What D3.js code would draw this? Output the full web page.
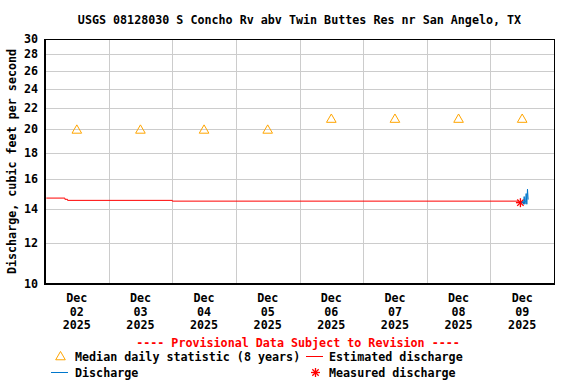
<!DOCTYPE html>
<html>
<head>
<meta charset="utf-8">
<script src="https://cdn.jsdelivr.net/npm/d3@7"></script>
<style>
  body { margin: 0; background: #fff; }
  svg text { font-family: "DejaVu Sans Mono", monospace; font-weight: bold; font-size: 11.7px; }
</style>
</head>
<body>
<svg id="chart" width="576" height="384"></svg>
<script>
// data
const title = 'USGS 08128030 S Concho Rv abv Twin Buttes Res nr San Angelo, TX'
const dayLabels = ['2025-12-02', '2025-12-03', '2025-12-04', '2025-12-05', '2025-12-06', '2025-12-07', '2025-12-08', '2025-12-09']
const medianValues = [20, 20, 20, 20, 21, 21, 21, 21]
const yTicks = [10, 12, 14, 16, 18, 20, 22, 24, 26, 28, 30]

const estTimes = ['2025-12-02T00:30', '2025-12-02T07:30', '2025-12-02T08:30', '2025-12-04T00:00', '2025-12-09T10:45']
const estValues = [14.7, 14.62, 14.55, 14.5, 14.5]

const dischargeTimes = ['2025-12-09T11:45', '2025-12-09T12:00', '2025-12-09T12:15', '2025-12-09T12:30', '2025-12-09T12:45',
  '2025-12-09T13:00', '2025-12-09T13:15', '2025-12-09T13:30', '2025-12-09T13:45', '2025-12-09T14:00', '2025-12-09T14:15']
const dischargeValues = [14.4, 14.4, 14.5, 14.3, 14.8, 14.3, 14.4, 15.0, 14.3, 15.3, 14.6]

const measuredTimes = ['2025-12-09T11:20']
const measuredValues = [14.4]

const parse = d3.timeParse('%Y-%m-%dT%H:%M')
const parseDay = d3.timeParse('%Y-%m-%d')

const svg = d3.select('#chart')

const pLeft = 45, pRight = 554, pTop = 39, pBottom = 284

const x = d3.scaleTime()
  .domain([parseDay('2025-12-02'), parseDay('2025-12-10')])
  .range([pLeft, pRight])

const y = d3.scaleLog()
  .domain([10, 30])
  .range([pBottom, pTop])

// title
svg.append('text')
  .attr('x', (pLeft + pRight) / 2)
  .attr('y', 24)
  .attr('text-anchor', 'middle')
  .text(title)

// grid
const grid = svg.append('g')
  .attr('stroke', '#cccccc')
  .attr('stroke-width', 1)

grid.selectAll('line.h')
  .data(yTicks.slice(1, -1))
  .enter()
  .append('line')
  .attr('x1', pLeft).attr('x2', pRight)
  .attr('y1', d => Math.round(y(d)) + 0.5)
  .attr('y2', d => Math.round(y(d)) + 0.5)

grid.selectAll('line.v')
  .data(d3.timeDay.range(parseDay('2025-12-03'), parseDay('2025-12-10')))
  .enter()
  .append('line')
  .attr('x1', d => Math.round(x(d)) + 0.5)
  .attr('x2', d => Math.round(x(d)) + 0.5)
  .attr('y1', pTop).attr('y2', pBottom)

// y tick labels
svg.append('g')
  .selectAll('text')
  .data(yTicks)
  .enter()
  .append('text')
  .attr('x', 38)
  .attr('y', d => y(d) + 4)
  .attr('text-anchor', 'end')
  .text(d => d)

// y label
svg.append('text')
  .attr('transform', `translate(16, ${(pTop + pBottom) / 2}) rotate(-90)`)
  .attr('text-anchor', 'middle')
  .text('Discharge, cubic feet per second')

// x tick labels at noon
const fmtMon = d3.timeFormat('%b'), fmtDay = d3.timeFormat('%d'), fmtYear = d3.timeFormat('%Y')
const xl = svg.append('g')
  .selectAll('text')
  .data(dayLabels.map(d => d3.timeHour.offset(parseDay(d), 12)))
  .enter()
  .append('text')
  .attr('text-anchor', 'middle')
  .attr('x', d => x(d))
  .attr('y', 302)

xl.append('tspan').attr('x', d => x(d)).text(d => fmtMon(d))
xl.append('tspan').attr('x', d => x(d)).attr('dy', 13.5).text(d => fmtDay(d))
xl.append('tspan').attr('x', d => x(d)).attr('dy', 13.5).text(d => fmtYear(d))

// estimated discharge
const est = estTimes.map((t, i) => ({ t: parse(t), v: estValues[i] }))
svg.append('path')
  .datum(est)
  .attr('fill', 'none')
  .attr('stroke', '#ff0000')
  .attr('stroke-width', 1)
  .attr('d', d3.line().x(d => x(d.t)).y(d => y(d.v)).curve(d3.curveStepAfter))

// median triangles
const tri = d3.symbol().type(d3.symbolTriangle).size(40)
svg.append('g')
  .selectAll('path')
  .data(dayLabels.map((d, i) => ({ t: d3.timeHour.offset(parseDay(d), 12), v: medianValues[i] })))
  .enter()
  .append('path')
  .attr('d', tri)
  .attr('transform', d => `translate(${x(d.t)},${y(d.v) + 1})`)
  .attr('fill', 'none')
  .attr('stroke', '#ffa500')
  .attr('stroke-width', 1)

// measured star
const star = (g, cx, cy, r) => {
  for (let a = 0; a < 4; a++) {
    const ang = a * Math.PI / 4
    g.append('line')
      .attr('x1', cx - r * Math.cos(ang)).attr('y1', cy - r * Math.sin(ang))
      .attr('x2', cx + r * Math.cos(ang)).attr('y2', cy + r * Math.sin(ang))
      .attr('stroke', '#ff0000')
      .attr('stroke-width', 1.3)
  }
}
const stars = svg.append('g')
measuredTimes.forEach((t, i) => star(stars, x(parse(t)), y(measuredValues[i]), 4.5))

// discharge
const disc = dischargeTimes.map((t, i) => ({ t: parse(t), v: dischargeValues[i] }))
svg.append('path')
  .datum(disc)
  .attr('fill', 'none')
  .attr('stroke', '#0077cc')
  .attr('stroke-width', 1)
  .attr('d', d3.line().x(d => x(d.t)).y(d => y(d.v)))

// frame
svg.append('rect')
  .attr('x', pLeft + 0.5).attr('y', pTop + 0.5)
  .attr('width', pRight - pLeft).attr('height', pBottom - pTop)
  .attr('fill', 'none')
  .attr('stroke', '#000')
svg.append('line').attr('x1', pLeft).attr('x2', pLeft).attr('y1', pTop).attr('y2', pBottom + 1).attr('stroke', '#000').attr('stroke-width', 2)
svg.append('line').attr('x1', pLeft).attr('x2', pRight + 1).attr('y1', pBottom).attr('y2', pBottom).attr('stroke', '#000').attr('stroke-width', 2)

// legend
svg.append('text')
  .attr('x', 298).attr('y', 347)
  .attr('text-anchor', 'middle')
  .attr('fill', '#ff0000')
  .text('---- Provisional Data Subject to Revision ----')

const leg = svg.append('g')
leg.append('path').attr('d', tri).attr('transform', 'translate(60.5,357)')
  .attr('fill', 'none').attr('stroke', '#ffa500')
leg.append('text').attr('x', 75).attr('y', 361).text('Median daily statistic (8 years)')
leg.append('line').attr('x1', 306).attr('x2', 323).attr('y1', 356.5).attr('y2', 356.5).attr('stroke', '#ff0000')
leg.append('text').attr('x', 329).attr('y', 361).text('Estimated discharge')
leg.append('line').attr('x1', 51).attr('x2', 68).attr('y1', 372.5).attr('y2', 372.5).attr('stroke', '#0077cc')
leg.append('text').attr('x', 75).attr('y', 377).text('Discharge')
star(leg, 315.5, 372.5, 4.5)
leg.append('text').attr('x', 329).attr('y', 377).text('Measured discharge')
</script>
</body>
</html>
